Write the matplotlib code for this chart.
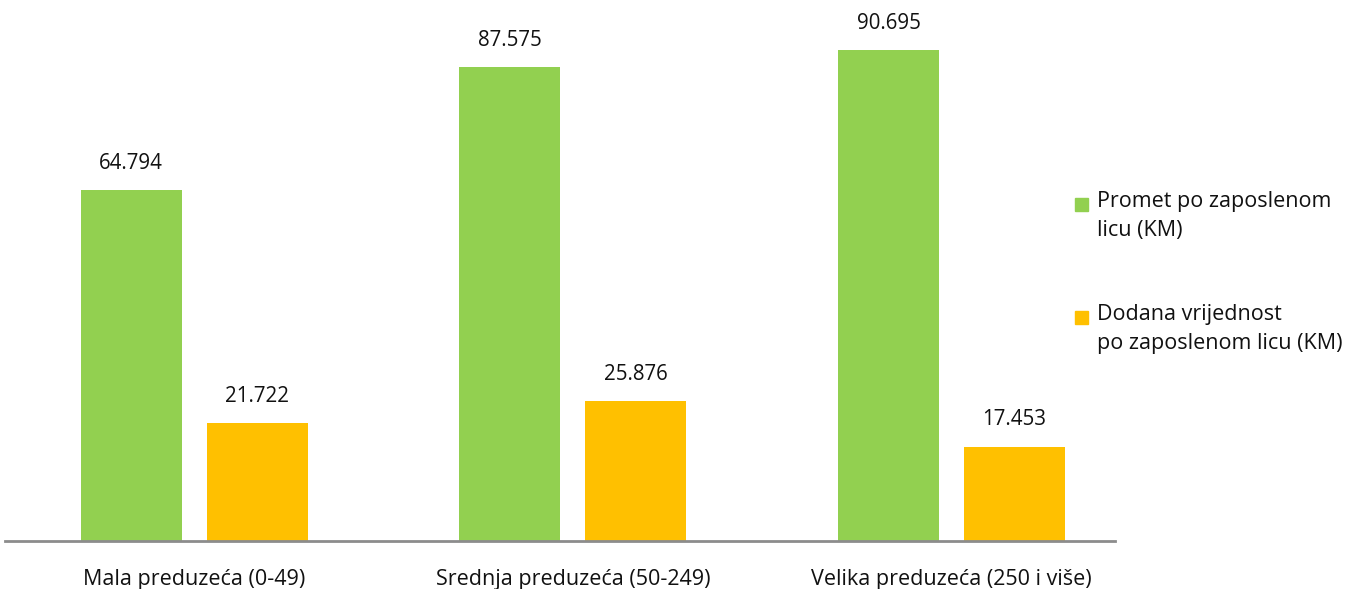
import matplotlib
matplotlib.use("Agg")
import matplotlib.pyplot as plt
from matplotlib.patches import Rectangle
import numpy as np

categories = ["Mala preduzeća (0-49)", "Srednja preduzeća (50-249)", "Velika preduzeća (250 i više)"]
promet = [64.794, 87.575, 90.695]
dodana = [21.722, 25.876, 17.453]
value_labels_promet = ["64.794", "87.575", "90.695"]
value_labels_dodana = ["21.722", "25.876", "17.453"]
legend_labels = ["Promet po zaposlenom\nlicu (KM)", "Dodana vrijednost\npo zaposlenom licu (KM)"]

green = "#92D050"
orange = "#FFC000"

plt.rcParams['font.family'] = ['Open Sans', 'DejaVu Sans']

W, H = 1358, 589
fig = plt.figure(figsize=(W / 100, H / 100), dpi=100)
ax = fig.add_axes([5 / W, (H - 541) / H, 1110 / W, 541 / H])

x = np.arange(len(categories))
bw = 101 / 378.5
off = (101 + 25) / 2 / 378.5
b1 = ax.bar(x - off, promet, bw, color=green)
b2 = ax.bar(x + off, dodana, bw, color=orange)

for bars, labs in ((b1, value_labels_promet), (b2, value_labels_dodana)):
    for b, lab in zip(bars, labs):
        ax.text(b.get_x() + b.get_width() / 2, b.get_height() + 3.0, lab,
                ha="center", va="bottom", fontsize=14.8, color="#111111")

ax.set_xlim(-0.5, 2.432)
ax.set_ylim(0, 100)
for s in ["top", "right", "left"]:
    ax.spines[s].set_visible(False)
ax.spines["bottom"].set_color("#8c8c8c")
ax.spines["bottom"].set_linewidth(2)
ax.set_yticks([])
ax.set_xticks(x)
ax.set_xticklabels(categories, fontsize=15.5, color="#111111")
ax.tick_params(axis="x", length=0, pad=20)

# legend drawn by hand so the square sits on the first line
for i, (col, lab) in enumerate(zip([green, orange], legend_labels)):
    ytop = 191 + i * 113
    fig.patches.append(Rectangle((1075 / W, 1 - (ytop + 20) / H), 13 / W, 13 / H,
                                 transform=fig.transFigure, color=col))
    fig.text(1097 / W, 1 - ytop / H, lab, ha="left", va="top", fontsize=15.5,
             color="#111111", linespacing=1.5)

fig.savefig("out.png", dpi=100)
